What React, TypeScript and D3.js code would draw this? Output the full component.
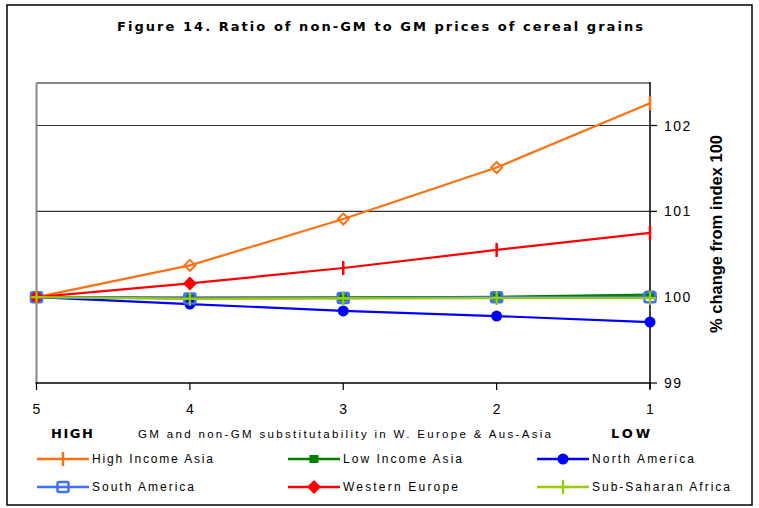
import React from "react";
import * as d3 from "d3";

const xValues = [5, 4, 3, 2, 1];
const xTickLabels = ["5", "4", "3", "2", "1"];
const yTicks = [99, 100, 101, 102];

const highIncomeAsia = [100, 100.37, 100.91, 101.51, 102.26];
const lowIncomeAsia = [100, 99.99, 99.995, 100.005, 100.03];
const northAmerica = [100, 99.92, 99.84, 99.78, 99.71];
const southAmerica = [100, 99.985, 99.99, 100.0, 100.0];
const westernEurope = [100, 100.16, 100.34, 100.55, 100.75];
const subSaharanAfrica = [100, 99.98, 99.985, 99.99, 99.99];

// marker type per point (Excel quirk in the reference)
const hiaMarkers = ["bar", "diamondOpen", "diamondOpen", "diamondOpen", "bar"];
const weMarkers = ["diamond", "diamond", "bar", "bar", "bar"];

type Series = {
  name: string;
  values: number[];
  color: string;
  markers: string[];
  legendMarker: string;
};

const series: Series[] = [
  { name: "High Income Asia", values: highIncomeAsia, color: "#FF7010", markers: hiaMarkers, legendMarker: "bar" },
  { name: "Low Income Asia", values: lowIncomeAsia, color: "#008000", markers: Array(5).fill("square"), legendMarker: "square" },
  { name: "North America", values: northAmerica, color: "#0000FF", markers: Array(5).fill("circle"), legendMarker: "circle" },
  { name: "South America", values: southAmerica, color: "#3F6FFF", markers: Array(5).fill("squareOpen"), legendMarker: "squareOpen" },
  { name: "Western Europe", values: westernEurope, color: "#FF0000", markers: weMarkers, legendMarker: "diamond" },
  { name: "Sub-Saharan Africa", values: subSaharanAfrica, color: "#99CC00", markers: Array(5).fill("plus"), legendMarker: "plus" },
];

function Marker({ type, x, y, color }: { type: string; x: number; y: number; color: string }) {
  switch (type) {
    case "circle":
      return <circle cx={x} cy={y} r={5.5} fill={color} />;
    case "square":
      return <rect x={x - 4.5} y={y - 4} width={9} height={8} fill={color} />;
    case "squareOpen":
      return <rect x={x - 5.5} y={y - 5} width={11} height={10} fill="none" stroke={color} strokeWidth={2.5} rx={1.5} />;
    case "diamond":
      return <path d={`M${x},${y - 7}L${x + 7},${y}L${x},${y + 7}L${x - 7},${y}Z`} fill={color} />;
    case "diamondOpen":
      return (
        <path
          d={`M${x},${y - 5.5}L${x + 5.5},${y}L${x},${y + 5.5}L${x - 5.5},${y}Z`}
          fill="none"
          stroke={color}
          strokeWidth={2}
        />
      );
    case "bar":
      return <line x1={x} x2={x} y1={y - 7} y2={y + 7} stroke={color} strokeWidth={2.5} />;
    case "plus":
      return (
        <g stroke={color} strokeWidth={2.2}>
          <line x1={x - 6} x2={x + 6} y1={y} y2={y} />
          <line x1={x} x2={x} y1={y - 7} y2={y + 7} />
        </g>
      );
    default:
      return null;
  }
}

export default function App() {
  const W = 759;
  const H = 508;
  const left = 36.5;
  const right = 650;
  const top = 83;
  const bottom = 383;

  const x = d3.scaleLinear().domain([5, 1]).range([left, right]);
  const y = d3.scaleLinear().domain([99, 102]).range([bottom, 125.5]);

  const line = d3
    .line<number>()
    .x((_, i) => x(xValues[i]))
    .y((d) => y(d));

  const font = "'Liberation Sans', Arial, sans-serif";

  const legendCols = [37, 288, 537];
  const legendRows = [459, 487];
  const legendTextLen = [121, 119, 102, 102, 115, 138];

  return (
    <svg
      width={W}
      height={H}
      style={{ position: "absolute", left: 0, top: 0, background: "#fff" }}
      fontFamily={font}
    >
      <rect x={0} y={0} width={W} height={H} fill="#fff" />
      <rect x={7} y={5} width={745} height={500} fill="none" stroke="#000" strokeWidth={1.5} />

      <text
        x={117}
        y={31}
        fontSize={13}
        fontWeight="bold"
        fontFamily="'DejaVu Sans', sans-serif"
        textLength={526}
        lengthAdjust="spacing"
        fill="#000"
      >
        Figure 14. Ratio of non-GM to GM prices of cereal grains
      </text>

      {/* gridlines */}
      {yTicks
        .filter((t) => t !== 99)
        .map((t) => (
          <line key={t} x1={left} x2={right} y1={y(t)} y2={y(t)} stroke="#333" strokeWidth={1.2} />
        ))}

      {/* plot frame: gray top and left */}
      <line x1={left} x2={right} y1={top} y2={top} stroke="#888" strokeWidth={2} />
      <line x1={left} x2={left} y1={top} y2={bottom} stroke="#888" strokeWidth={2} />

      {/* right axis */}
      <line x1={right} x2={right} y1={top - 1} y2={bottom + 6} stroke="#000" strokeWidth={1.5} />
      {yTicks.map((t) => (
        <g key={t}>
          <line x1={right} x2={right + 7} y1={y(t)} y2={y(t)} stroke="#000" strokeWidth={1.2} />
          <text x={664} y={y(t) + 5} fontSize={14} letterSpacing={1.5} fill="#000">
            {t}
          </text>
        </g>
      ))}

      {/* bottom axis */}
      <line x1={left - 1} x2={right + 1} y1={bottom} y2={bottom} stroke="#000" strokeWidth={1.5} />
      {xValues.map((v, i) => (
        <g key={v}>
          <line x1={x(v)} x2={x(v)} y1={bottom} y2={bottom + 7} stroke="#000" strokeWidth={1.2} />
          <text x={x(v)} y={414} fontSize={14} textAnchor="middle" fill="#000">
            {xTickLabels[i]}
          </text>
        </g>
      ))}

      {/* y title */}
      <text
        transform="translate(722,234) rotate(-90)"
        textAnchor="middle"
        fontSize={16.5}
        fontWeight="bold"
        fill="#000"
      >
        % change from index 100
      </text>

      {/* x axis labels */}
      <text x={51} y={438} fontSize={13} fontWeight="bold" fontFamily="'DejaVu Sans', sans-serif" textLength={42} lengthAdjust="spacing" fill="#000">
        HIGH
      </text>
      <text x={138} y={438} fontSize={11.5} textLength={413} lengthAdjust="spacing" fill="#000">
        GM and non-GM substitutability in W. Europe &amp; Aus-Asia
      </text>
      <text x={611} y={438} fontSize={13} fontWeight="bold" fontFamily="'DejaVu Sans', sans-serif" textLength={39} lengthAdjust="spacing" fill="#000">
        LOW
      </text>

      {/* series */}
      {series.map((s) => (
        <g key={s.name}>
          <path d={line(s.values) || ""} fill="none" stroke={s.color} strokeWidth={2.2} />
          {s.values.map((v, i) => (
            <Marker key={i} type={s.markers[i]} x={x(xValues[i])} y={y(v)} color={s.color} />
          ))}
        </g>
      ))}

      {/* legend */}
      {series.map((s, i) => {
        const col = i % 3;
        const row = Math.floor(i / 3);
        const lx = legendCols[col];
        const ly = legendRows[row];
        return (
          <g key={s.name}>
            <line x1={lx} x2={lx + 52} y1={ly} y2={ly} stroke={s.color} strokeWidth={2.5} />
            <Marker type={s.legendMarker} x={lx + 26} y={ly} color={s.color} />
            <text
              x={lx + 55}
              y={ly + 4}
              fontSize={12}
              textLength={legendTextLen[i]}
              lengthAdjust="spacing"
              fill="#000"
            >
              {s.name}
            </text>
          </g>
        );
      })}
    </svg>
  );
}
